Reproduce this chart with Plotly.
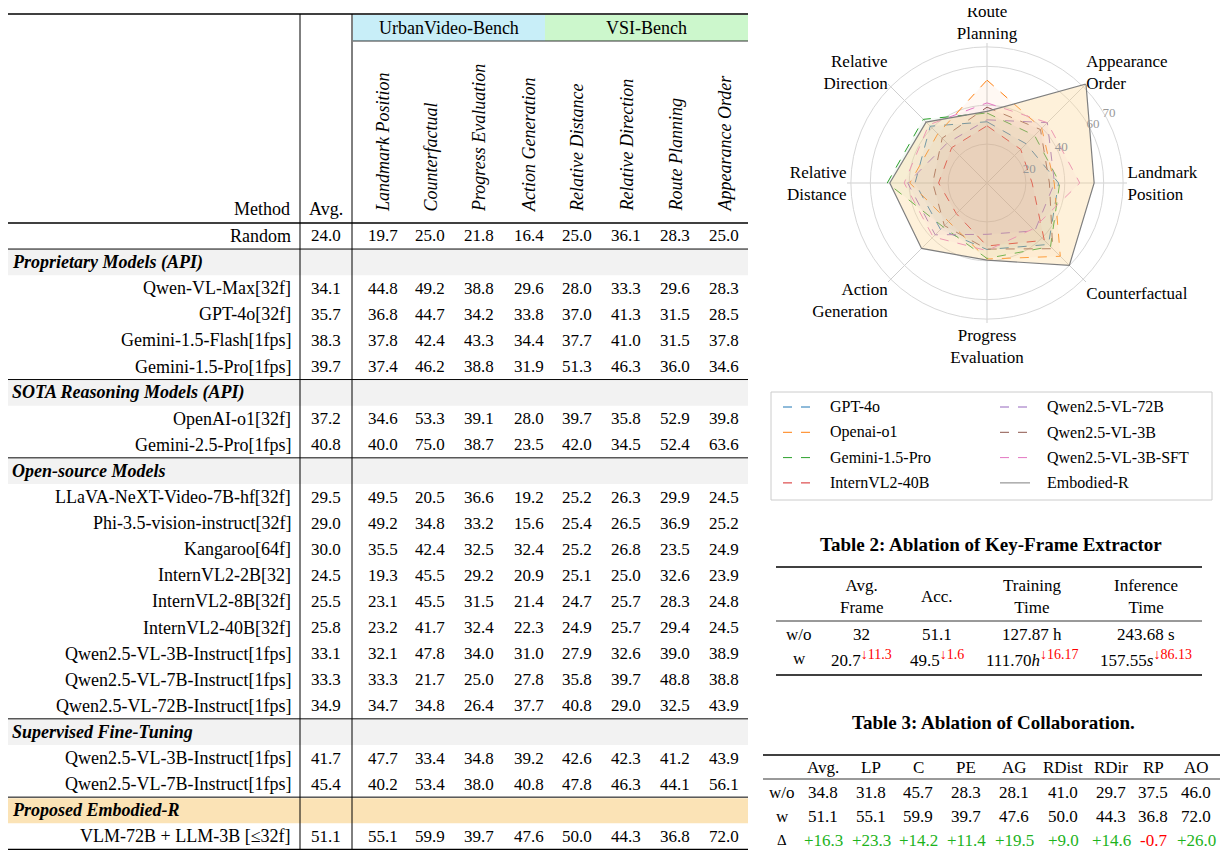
import plotly.graph_objects as go

# the page has an 8px body margin, so the figure is drawn 16px smaller and shifted
W, H = 1212, 846
OFF = 8
FONT = 'Liberation Serif'

def X(px):
    return (px - OFF) / W

def Y(py):
    return 1 - (py - OFF) / H

# ---- main table data ----
columns = ['Landmark Position', 'Counterfactual', 'Progress Evaluation', 'Action Generation',
           'Relative Distance', 'Relative Direction', 'Route Planning', 'Appearance Order']

random_row = ('Random', 24.0, [19.7, 25.0, 21.8, 16.4, 25.0, 36.1, 28.3, 25.0])

proprietary = [
    ('Qwen-VL-Max[32f]', 34.1, [44.8, 49.2, 38.8, 29.6, 28.0, 33.3, 29.6, 28.3]),
    ('GPT-4o[32f]', 35.7, [36.8, 44.7, 34.2, 33.8, 37.0, 41.3, 31.5, 28.5]),
    ('Gemini-1.5-Flash[1fps]', 38.3, [37.8, 42.4, 43.3, 34.4, 37.7, 41.0, 31.5, 37.8]),
    ('Gemini-1.5-Pro[1fps]', 39.7, [37.4, 46.2, 38.8, 31.9, 51.3, 46.3, 36.0, 34.6]),
]
reasoning = [
    ('OpenAI-o1[32f]', 37.2, [34.6, 53.3, 39.1, 28.0, 39.7, 35.8, 52.9, 39.8]),
    ('Gemini-2.5-Pro[1fps]', 40.8, [40.0, 75.0, 38.7, 23.5, 42.0, 34.5, 52.4, 63.6]),
]
open_source = [
    ('LLaVA-NeXT-Video-7B-hf[32f]', 29.5, [49.5, 20.5, 36.6, 19.2, 25.2, 26.3, 29.9, 24.5]),
    ('Phi-3.5-vision-instruct[32f]', 29.0, [49.2, 34.8, 33.2, 15.6, 25.4, 26.5, 36.9, 25.2]),
    ('Kangaroo[64f]', 30.0, [35.5, 42.4, 32.5, 32.4, 25.2, 26.8, 23.5, 24.9]),
    ('InternVL2-2B[32]', 24.5, [19.3, 45.5, 29.2, 20.9, 25.1, 25.0, 32.6, 23.9]),
    ('InternVL2-8B[32f]', 25.5, [23.1, 45.5, 31.5, 21.4, 24.7, 25.7, 28.3, 24.8]),
    ('InternVL2-40B[32f]', 25.8, [23.2, 41.7, 32.4, 22.3, 24.9, 25.7, 29.4, 24.5]),
    ('Qwen2.5-VL-3B-Instruct[1fps]', 33.1, [32.1, 47.8, 34.0, 31.0, 27.9, 32.6, 39.0, 38.9]),
    ('Qwen2.5-VL-7B-Instruct[1fps]', 33.3, [33.3, 21.7, 25.0, 27.8, 35.8, 39.7, 48.8, 38.8]),
    ('Qwen2.5-VL-72B-Instruct[1fps]', 34.9, [34.7, 34.8, 26.4, 37.7, 40.8, 29.0, 32.5, 43.9]),
]
sft = [
    ('Qwen2.5-VL-3B-Instruct[1fps]', 41.7, [47.7, 33.4, 34.8, 39.2, 42.6, 42.3, 41.2, 43.9]),
    ('Qwen2.5-VL-7B-Instruct[1fps]', 45.4, [40.2, 53.4, 38.0, 40.8, 47.8, 46.3, 44.1, 56.1]),
]
proposed = [
    ('VLM-72B + LLM-3B [≤32f]', 51.1, [55.1, 59.9, 39.7, 47.6, 50.0, 44.3, 36.8, 72.0]),
]
sections = [
    ('Proprietary Models (API)', proprietary, '#f2f2f2'),
    ('SOTA Reasoning Models (API)', reasoning, '#f2f2f2'),
    ('Open-source Models', open_source, '#f2f2f2'),
    ('Supervised Fine-Tuning', sft, '#f2f2f2'),
    ('Proposed Embodied-R', proposed, '#fbe3b6'),
]

# ---- radar data ----
radar_axes = ['Route<br>Planning', 'Appearance<br>Order', 'Landmark<br>Position', 'Counterfactual',
              'Progress<br>Evaluation', 'Action<br>Generation', 'Relative<br>Distance', 'Relative<br>Direction']
radar_models = ['GPT-4o', 'Openai-o1', 'Gemini-1.5-Pro', 'InternVL2-40B',
                'Qwen2.5-VL-72B', 'Qwen2.5-VL-3B', 'Qwen2.5-VL-3B-SFT', 'Embodied-R']
radar_values = [
    [31.5, 28.5, 36.8, 44.7, 34.2, 33.8, 37.0, 41.3],
    [52.9, 39.8, 34.6, 53.3, 39.1, 28.0, 39.7, 35.8],
    [36.0, 34.6, 37.4, 46.2, 38.8, 31.9, 51.3, 46.3],
    [29.4, 24.5, 23.2, 41.7, 32.4, 22.3, 24.9, 25.7],
    [32.5, 43.9, 34.7, 34.8, 26.4, 37.7, 40.8, 29.0],
    [39.0, 38.9, 32.1, 47.8, 34.0, 31.0, 27.9, 32.6],
    [41.2, 43.9, 47.7, 33.4, 34.8, 39.2, 42.6, 42.3],
    [36.8, 72.0, 55.1, 59.9, 39.7, 47.6, 50.0, 44.3],
]
radar_colors = ['#1f77b4', '#ff7f0e', '#2ca02c', '#d62728', '#9467bd', '#8c564b', '#e377c2', '#7f7f7f']
radar_fills = ['rgba(31,119,180,0.05)', 'rgba(255,127,14,0.05)', 'rgba(44,160,44,0.05)',
               'rgba(214,39,40,0.05)', 'rgba(148,103,189,0.05)', 'rgba(140,86,75,0.05)',
               'rgba(227,119,194,0.05)', 'rgba(253,215,150,0.35)']

# ---- table 2 / table 3 data ----
t2_header = ['Avg.<br>Frame', 'Acc.', 'Training<br>Time', 'Inference<br>Time']
t2_wo = ['32', '51.1', '127.87 h', '243.68 s']
t2_w = ['20.7', '49.5', '111.70<i>h</i>', '157.55<i>s</i>']
t2_drop = ['11.3', '1.6', '16.17', '86.13']

t3_header = ['Avg.', 'LP', 'C', 'PE', 'AG', 'RDist', 'RDir', 'RP', 'AO']
t3_wo = [34.8, 31.8, 45.7, 28.3, 28.1, 41.0, 29.7, 37.5, 46.0]
t3_w = [51.1, 55.1, 59.9, 39.7, 47.6, 50.0, 44.3, 36.8, 72.0]

fig = go.Figure()
for i, m in enumerate(radar_models):
    vals = radar_values[i] + radar_values[i][:1]
    emb = m == 'Embodied-R'
    fig.add_trace(go.Scatterpolar(
        r=vals, theta=radar_axes + radar_axes[:1], name=m, mode='lines',
        fill='toself', fillcolor=radar_fills[i],
        line=dict(color=radar_colors[i], width=1.2 if emb else 1, dash='solid' if emb else 'dash'),
    ))

ann = []
shapes = []

def text(px, py, s, size=17, xa='center', ya='middle', color='black', angle=0):
    ann.append(dict(x=X(px), y=Y(py), xref='paper', yref='paper', text=s, showarrow=False,
                    xanchor=xa, yanchor=ya, textangle=angle,
                    font=dict(family=FONT, size=size, color=color)))

def line(x0, x1, y0, y1, w=1.3, color='black', dash='solid'):
    shapes.append(dict(type='line', xref='paper', yref='paper', x0=X(x0), x1=X(x1), y0=Y(y0), y1=Y(y1),
                       line=dict(color=color, width=w, dash=dash)))

def hline(x0, x1, py, w=1.3):
    line(x0, x1, py, py, w)

def rect(x0, x1, y0, y1, color, border=None):
    shapes.append(dict(type='rect', xref='paper', yref='paper', x0=X(x0), x1=X(x1), y0=Y(y0), y1=Y(y1),
                       fillcolor=color, layer='below',
                       line=dict(width=1 if border else 0, color=border or color)))

# ---- main table ----
col_x = [383, 430, 479, 529, 577, 626, 675, 724]
rect(353, 545, 15, 41, '#c8eef8')
rect(545, 748, 15, 41, '#ccf7cc')
text(449, 28, 'UrbanVideo-Bench', size=18)
text(646, 28, 'VSI-Bench', size=18)
hline(353, 748, 41, 0.8)
for cx, c in zip(col_x, columns):
    text(cx, 214, '<i>' + c + '</i>', size=18, ya='bottom', angle=-90)
text(292, 209, 'Method', size=18, xa='right')
text(326, 209, 'Avg.', size=18)

row_h = 26.1
y = 236

def data_row(r, y):
    name, avg, sc = r
    text(293, y, name, size=18, xa='right')
    text(326, y, f'{avg:.1f}')
    for cx, v in zip(col_x, sc):
        text(cx, y, f'{v:.1f}')

hline(0, 748, 14)
hline(0, 748, 223)
data_row(random_row, y)
for title, rows, bg in sections:
    y += row_h
    top = y - row_h / 2
    rect(0, 748, top + 1, top + row_h, bg)
    hline(0, 748, top, 1)
    text(10, y, '<b><i>' + title + '</i></b>', size=18, xa='left')
    for r in rows:
        y += row_h
        data_row(r, y)
hline(0, 748, y + row_h / 2)
for vx in (300, 352):
    line(vx, vx, 14, y + row_h / 2, 1)

# ---- radar legend (drawn by hand in two columns) ----
rect(771, 1212, 392, 500, 'rgba(0,0,0,0)', border='#cccccc')
for i, m in enumerate(radar_models):
    col, row = divmod(i, 4)
    lx = 783 if col == 0 else 1000
    ly = 407 + row * 25.3
    line(lx, lx + 30, ly, ly, 1, radar_colors[i], 'solid' if m == 'Embodied-R' else 'dash')
    text(lx + 45, ly, m, size=16, xa='left')

# ---- table 2 ----
text(991, 544, '<b>Table 2: Ablation of Key-Frame Extractor</b>', size=19)
hline(776, 1202, 567)
hline(776, 1202, 621, 0.8)
hline(776, 1202, 675)
t2_x = [861, 937, 1032, 1146]
for cx, h in zip(t2_x, t2_header):
    text(cx, 596, h, size=17)
text(799, 634, 'w/o', size=17)
text(799, 658, 'w', size=17)
for cx, a, b, d in zip(t2_x, t2_wo, t2_w, t2_drop):
    text(cx, 634, a, size=17)
    text(cx, 658, b + "<sup><span style='color:red;font-size:14px'>↓" + d + '</span></sup>', size=17)

# ---- table 3 ----
text(993, 722, '<b>Table 3: Ablation of Collaboration.</b>', size=19)
hline(763, 1220, 755)
hline(763, 1220, 779, 0.8)
hline(763, 1220, 857)
t3_x = [823, 871, 918, 966, 1014, 1063, 1111, 1153, 1196]
for cx, h in zip(t3_x, t3_header):
    text(cx, 767, h, size=17)
text(782, 792, 'w/o', size=17)
text(782, 816, 'w', size=17)
text(782, 840, 'Δ', size=15)
for cx, a, b in zip(t3_x, t3_wo, t3_w):
    d = round(b - a, 1)
    text(cx, 792, f'{a:.1f}', size=17)
    text(cx, 816, f'{b:.1f}', size=17)
    text(cx, 840, f'{d:+.1f}', size=17, color='#1db31d' if d >= 0 else '#ff0000')

fig.update_layout(
    width=W, height=H, margin=dict(l=0, r=0, t=0, b=0),
    paper_bgcolor='white', plot_bgcolor='white',
    font=dict(family=FONT, size=16, color='black'),
    annotations=ann, shapes=shapes,
    showlegend=False,
    polar=dict(
        domain=dict(x=[X(847), X(1127)], y=[Y(323), Y(43)]),
        bgcolor='white',
        angularaxis=dict(rotation=90, direction='clockwise', showline=False,
                         gridcolor='#cfcfcf', tickfont=dict(family=FONT, size=17), ticks=''),
        radialaxis=dict(range=[0, 72], tickvals=[20, 40, 60, 70], angle=35, tickangle=35,
                        showline=False, gridcolor='#d8d8d8', ticks='',
                        tickfont=dict(family=FONT, size=13, color='#999999')),
    ),
)

fig.write_html('out.html')
